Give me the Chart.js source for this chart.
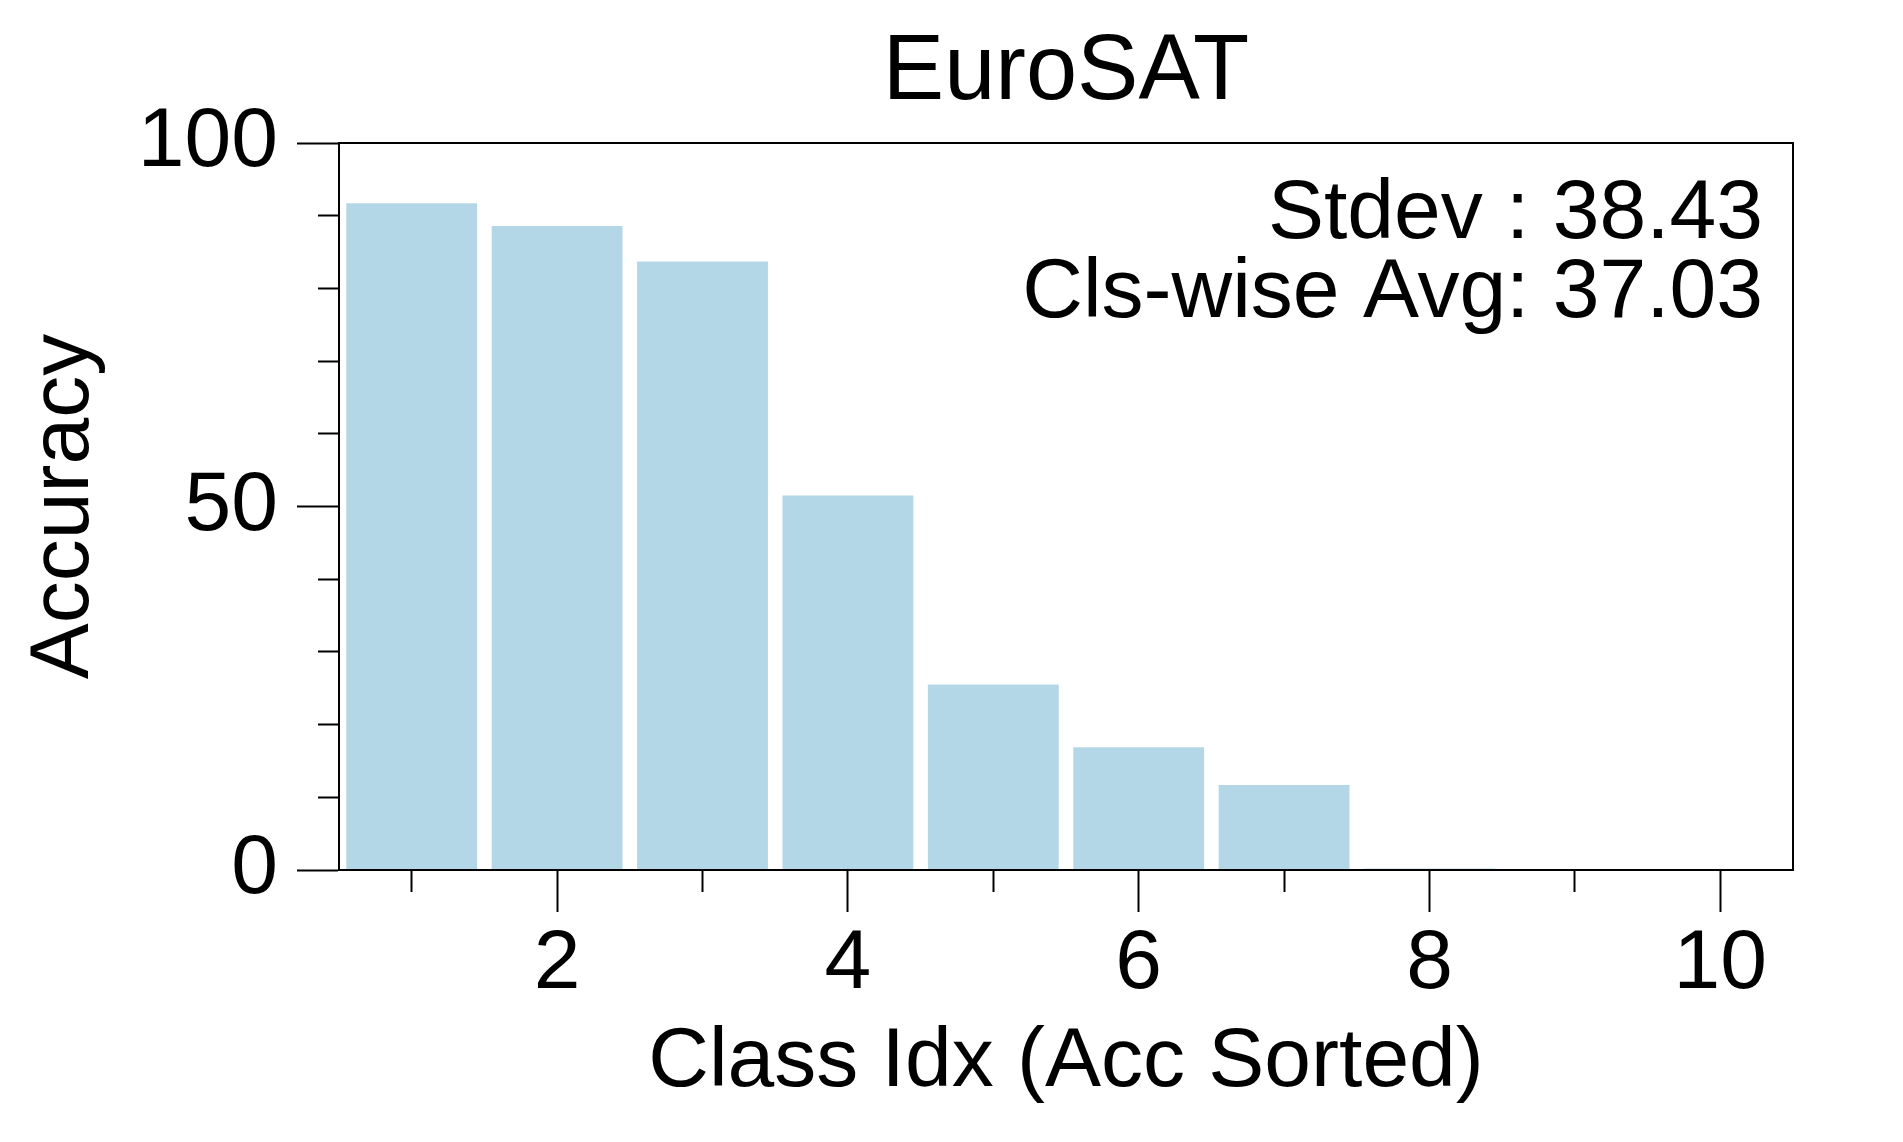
<!DOCTYPE html>
<html>
<head>
<meta charset="utf-8">
<script src="https://cdn.jsdelivr.net/npm/chart.js@4.4.1/dist/chart.umd.min.js"></script>
<style>
  body { margin: 0; background: #fff; }
  #wrap { width: 1903px; height: 1142px; }
</style>
</head>
<body>
<div id="wrap"><canvas id="chartEuroSat"></canvas></div>
<script>
  // data
  var classIdx = ['1', '2', '3', '4', '5', '6', '7', '8', '9', '10'];
  var accuracy = [91.7, 88.6, 83.7, 51.5, 25.5, 16.9, 11.7, 0.2, 0, 0];
  var xTickLabels = ['2', '4', '6', '8', '10'];
  var yTickLabels = [0, 50, 100];
  var statLines = ['Stdev : 38.43', 'Cls-wise Avg: 37.03'];

  Chart.defaults.font.family = 'Liberation Sans, Arial, sans-serif';
  Chart.defaults.color = '#000';

  // top/right spines + redraw left/bottom over the bars
  var frame = {
    id: 'frame',
    afterDatasetsDraw: function(chart) {
      var a = chart.chartArea, ctx = chart.ctx;
      ctx.save();
      ctx.strokeStyle = '#000';
      ctx.lineWidth = 2;
      ctx.strokeRect(a.left, a.top, a.right - a.left, a.bottom - a.top);
      ctx.restore();
    }
  };

  var stats = {
    id: 'stats',
    afterDraw: function(chart) {
      var a = chart.chartArea, ctx = chart.ctx;
      ctx.save();
      ctx.font = '84px Liberation Sans, Arial, sans-serif';
      ctx.fillStyle = '#000';
      ctx.textAlign = 'right';
      ctx.textBaseline = 'alphabetic';
      ctx.fillText(statLines[0], a.right - 30, a.top + 95);
      ctx.fillText(statLines[1], a.right - 30, a.top + 173.5);
      ctx.restore();
    }
  };

  var chart1 = document.getElementById('chartEuroSat');

  var bar1 = new Chart(chart1, {
    type: 'bar',
    data: {
      labels: classIdx,
      datasets: [
        {
          label: 'Accuracy',
          backgroundColor: '#b4d7e8',
          borderWidth: 0,
          barPercentage: 0.9,
          categoryPercentage: 1.0,
          data: accuracy
        }
      ]
    },
    options: {
      responsive: true,
      maintainAspectRatio: false,
      animation: false,
      layout: { padding: { top: 0, left: 0, right: 110, bottom: 0 } },
      plugins: {
        legend: { display: false },
        tooltip: { enabled: false },
        title: {
          display: true,
          text: 'EuroSAT',
          fullSize: false,
          color: '#000',
          font: { size: 92, weight: 'normal', lineHeight: 1.2 },
          padding: { top: 18, bottom: 14.6 }
        }
      },
      scales: {
        x: {
          offset: true,
          grid: {
            offset: false,
            drawOnChartArea: false,
            tickLength: 42,
            tickWidth: 2,
            tickColor: '#000',
            tickBorderDash: function(ctx) {
              var lbl = classIdx[ctx.index];
              return xTickLabels.indexOf(lbl) >= 0 ? [] : [21, 1000];
            }
          },
          border: { display: true, color: '#000', width: 2 },
          ticks: {
            autoSkip: false,
            maxRotation: 0,
            padding: 2,
            font: { size: 84, lineHeight: 1.2 },
            callback: function(v, i) {
              var lbl = classIdx[i];
              return xTickLabels.indexOf(lbl) >= 0 ? lbl : '';
            }
          },
          title: {
            display: true,
            text: 'Class Idx (Acc Sorted)',
            font: { size: 84, lineHeight: 1.2 },
            padding: { top: 0, bottom: 29 }
          },
          afterFit: function(scale) { scale.height = 272; }
        },
        y: {
          min: 0,
          max: 100,
          grid: {
            drawOnChartArea: false,
            tickLength: 42,
            tickWidth: 2,
            tickColor: '#000',
            tickBorderDash: function(ctx) {
              var v = ctx.tick ? ctx.tick.value : 0;
              return yTickLabels.indexOf(v) >= 0 ? [] : [0, 21, 21, 1000];
            }
          },
          border: { display: true, color: '#000', width: 2 },
          ticks: {
            stepSize: 10,
            autoSkip: false,
            padding: 19,
            font: { size: 84, lineHeight: 1.2 },
            callback: function(v) {
              return yTickLabels.indexOf(v) >= 0 ? String(v) : '';
            }
          },
          title: {
            display: true,
            text: 'Accuracy',
            font: { size: 84, lineHeight: 1.2 },
            padding: { top: 14, bottom: 0 }
          },
          afterFit: function(scale) { scale.width = 339; }
        }
      }
    },
    plugins: [frame, stats]
  });
</script>
</body>
</html>
